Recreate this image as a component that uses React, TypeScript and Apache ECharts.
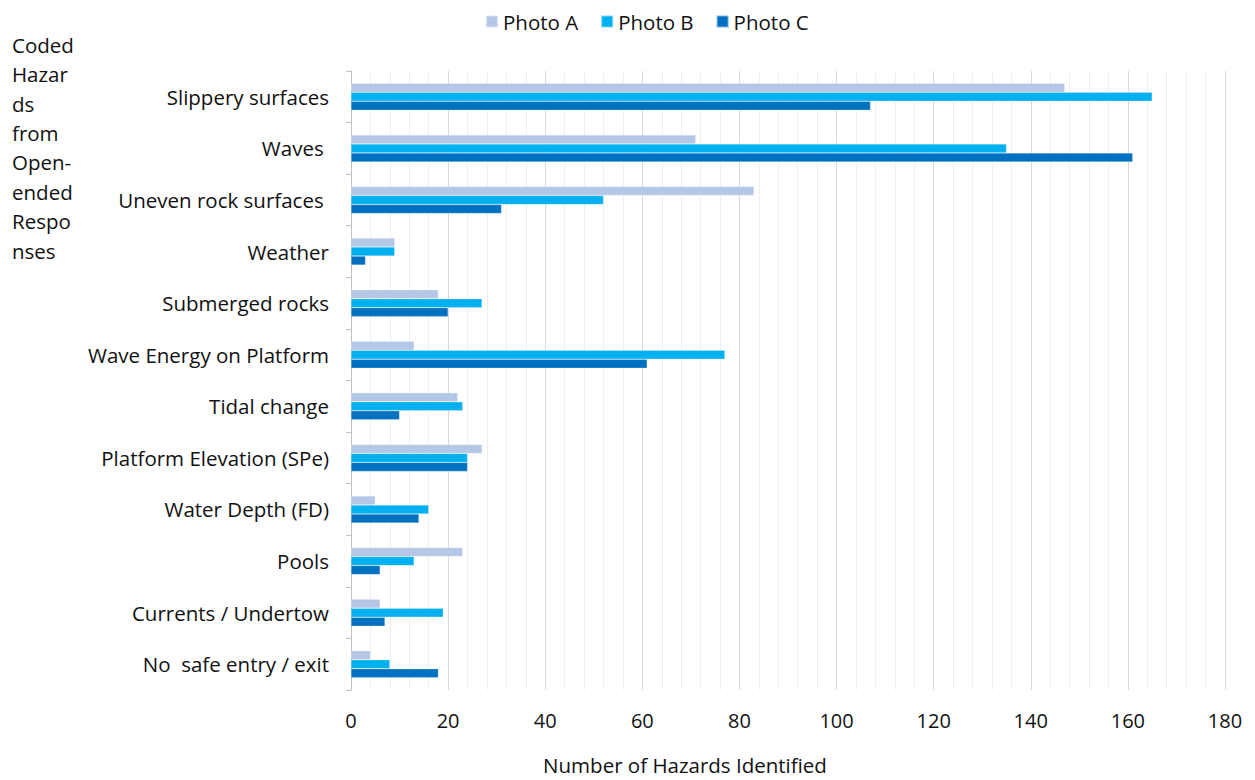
import React, { useEffect, useRef } from "react";
import * as echarts from "echarts";

const categories = [
  "Slippery surfaces",
  "Waves ",
  "Uneven rock surfaces ",
  "Weather",
  "Submerged rocks",
  "Wave Energy on Platform",
  "Tidal change",
  "Platform Elevation (SPe)",
  "Water Depth (FD)",
  "Pools",
  "Currents / Undertow",
  "No  safe entry / exit",
];
const photoA = [147, 71, 83, 9, 18, 13, 22, 27, 5, 23, 6, 4];
const photoB = [165, 135, 52, 9, 27, 77, 23, 24, 16, 13, 19, 8];
const photoC = [107, 161, 31, 3, 20, 61, 10, 24, 14, 6, 7, 18];
const seriesNames = ["Photo A", "Photo B", "Photo C"];
const colors = ["#B4C7E7", "#00B0F0", "#0070C0"];
const yTitleLines = ["Coded", "Hazar", "ds", "from", "Open-", "ended", "Respo", "nses"];
const xTitle = "Number of Hazards Identified";

const FONT = "'Open Sans', sans-serif";
const TXT = "#111111";

export default function App() {
  const ref = useRef<HTMLDivElement>(null);
  useEffect(() => {
    if (!ref.current) return;
    const chart = echarts.init(ref.current, undefined, { renderer: "svg" });
    const data = [photoA, photoB, photoC];
    chart.setOption({
      animation: false,
      backgroundColor: "#ffffff",
      textStyle: { fontFamily: FONT },
      legend: {
        top: 6,
        left: 480,
        itemWidth: 12,
        itemHeight: 12,
        itemGap: 22,
        icon: "rect",
        textStyle: { fontSize: 20.5, color: TXT, fontFamily: FONT },
        data: seriesNames,
      },
      grid: { left: 351, right: 30, top: 71, bottom: 90, containLabel: false },
      xAxis: {
        type: "value",
        min: 0,
        max: 180,
        interval: 20,
        axisLine: { show: false },
        axisTick: { show: false },
        axisLabel: { fontSize: 20, color: TXT, margin: 20, fontFamily: FONT },
        splitLine: { show: true, lineStyle: { color: "#D9D9D9", width: 1 } },
        minorTick: { show: false, splitNumber: 5 },
        minorSplitLine: { show: true, lineStyle: { color: "#EFEFEF", width: 1 } },
      },
      yAxis: {
        type: "category",
        inverse: true,
        data: categories,
        axisLine: { show: true, lineStyle: { color: "#BFBFBF", width: 1 } },
        axisTick: { show: true, length: 5, lineStyle: { color: "#BFBFBF" } },
        axisLabel: { fontSize: 20.5, color: TXT, margin: 22, fontFamily: FONT },
        splitLine: { show: false },
      },
      graphic: [
        {
          type: "text",
          left: 12,
          top: 30,
          style: {
            text: yTitleLines.join("\n"),
            fontSize: 20.5,
            lineHeight: 29.4,
            fill: TXT,
            fontFamily: FONT,
          },
        },
        {
          type: "text",
          x: 685,
          y: 765,
          style: {
            text: xTitle,
            fontSize: 20.5,
            fill: TXT,
            fontFamily: FONT,
            align: "center",
            verticalAlign: "middle",
          },
        },
      ],
      series: seriesNames.map((name, i) => ({
        name,
        type: "bar",
        data: data[i],
        barWidth: 9,
        barGap: "0%",
        itemStyle: {
          color: colors[i],
          borderColor: "rgba(255,255,255,0.5)",
          borderWidth: 0.5,
        },
      })),
    });
    return () => chart.dispose();
  }, []);
  return (
    <div
      ref={ref}
      style={{ position: "fixed", left: 0, top: 0, width: 1255, height: 780 }}
    />
  );
}
